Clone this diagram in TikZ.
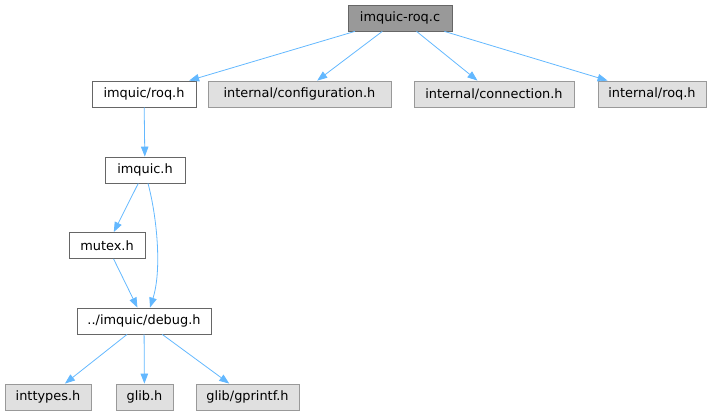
\documentclass[tikz,border=0pt]{standalone}
\usepackage{fontspec}
\setmainfont{DejaVu Sans}
\usetikzlibrary{arrows.meta}
\definecolor{edgeblue}{HTML}{63B8FF}
\definecolor{rootfill}{HTML}{999999}
\definecolor{rootdraw}{HTML}{666666}
\definecolor{extfill}{HTML}{E0E0E0}
\definecolor{extdraw}{HTML}{999999}
\begin{document}
\begin{tikzpicture}[x=1pt,y=1pt,
  box/.style={draw, line width=0.8pt, minimum height=26pt, inner sep=0pt, font=\fontsize{12.9pt}{15pt}\selectfont, text=black},
  rootbox/.style={box, fill=rootfill, draw=rootdraw},
  localbox/.style={box, fill=white, draw=rootdraw},
  extbox/.style={box, fill=extfill, draw=extdraw},
  edge/.style={draw=edgeblue, line width=0.8pt, -{Triangle[length=10pt,width=7.5pt]}}]
\useasboundingbox (0,0) rectangle (712,417);
\node[rootbox, minimum width=104pt] (root) at (400,399) {imquic-roq.c};
\node[localbox, minimum width=104pt] (roq) at (144,323) {imquic/roq.h};
\node[extbox, minimum width=183pt] (conf) at (299.5,323) {internal/configuration.h};
\node[extbox, minimum width=160pt] (conn) at (494,323) {internal/connection.h};
\node[extbox, minimum width=108pt] (iroq) at (652,323) {internal/roq.h};
\node[localbox, minimum width=80pt] (imquic) at (145,247) {imquic.h};
\node[localbox, minimum width=76pt] (mutex) at (107,171.5) {mutex.h};
\node[localbox, minimum width=134pt] (debug) at (144,96) {../imquic/debug.h};
\node[extbox, minimum width=86pt] (inttypes) at (48,20) {inttypes.h};
\node[extbox, minimum width=57pt] (glib) at (144.5,20) {glib.h};
\node[extbox, minimum width=103pt] (gprintf) at (247.5,20) {glib/gprintf.h};
\draw[edge] (root) -- (roq);
\draw[edge] (root) -- (conf);
\draw[edge] (root) -- (conn);
\draw[edge] (root) -- (iroq);
\draw[edge] (roq) -- (imquic);
\draw[edge] (imquic) -- (mutex);
\draw[edge] (mutex) -- (debug);
\draw[edge] ([xshift=3pt]imquic.south) .. controls (157,200) and (162,147) .. ([xshift=6pt]debug.north);
\draw[edge] (debug) -- (inttypes);
\draw[edge] (debug) -- (glib);
\draw[edge] (debug) -- (gprintf);
\end{tikzpicture}
\end{document}
